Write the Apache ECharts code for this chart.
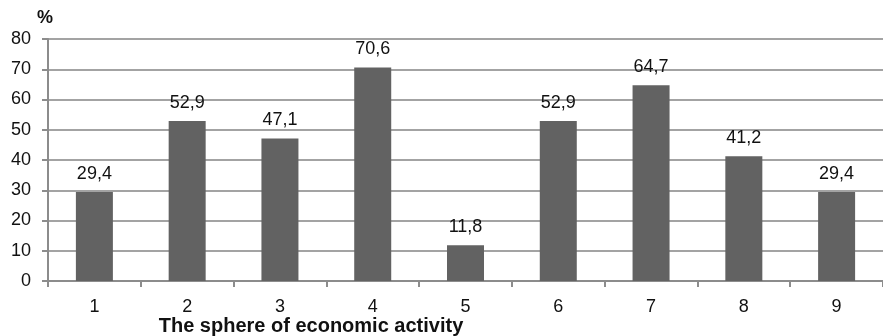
<!DOCTYPE html>
<html>
<head>
<meta charset="utf-8">
<script src="https://cdn.jsdelivr.net/npm/echarts@6/dist/echarts.min.js"></script>
<style>
html,body{margin:0;padding:0;background:#fff;}
#chart{width:883px;height:336px;}
</style>
</head>
<body>
<div id="chart"></div>
<script>
// Share of respondents by sphere of economic activity
const categories = ['1', '2', '3', '4', '5', '6', '7', '8', '9'];
const shares = [29.4, 52.9, 47.1, 70.6, 11.8, 52.9, 64.7, 41.2, 29.4];
const yTicks = [0, 10, 20, 30, 40, 50, 60, 70, 80];

const FONT = '"Liberation Sans Narrow", "Arial Narrow", "Liberation Sans", Arial, sans-serif';

const chart = echarts.init(document.getElementById('chart'), null, { renderer: 'canvas' });
chart.setOption({
  animation: false,
  backgroundColor: '#ffffff',
  grid: { left: 48, top: 39, width: 841, height: 242, containLabel: false },
  xAxis: {
    type: 'category',
    data: categories,
    axisLine: { show: true, lineStyle: { color: '#8c8c8c', width: 2 } },
    axisTick: { show: true, alignWithLabel: false, length: 6, lineStyle: { color: '#8c8c8c', width: 2 } },
    axisLabel: { color: '#111', fontFamily: FONT, fontSize: 18, margin: 17 }
  },
  yAxis: {
    type: 'value',
    min: yTicks[0],
    max: yTicks[yTicks.length - 1],
    interval: 10,
    axisLine: { show: true, lineStyle: { color: '#8c8c8c', width: 2 } },
    axisTick: { show: true, length: 6, lineStyle: { color: '#8c8c8c', width: 2 } },
    axisLabel: { color: '#111', fontFamily: FONT, fontSize: 18, margin: 17 },
    splitLine: { show: true, lineStyle: { color: '#a3a3a3', width: 2 } }
  },
  series: [{
    type: 'bar',
    data: shares,
    barWidth: 37,
    itemStyle: { color: '#626262' },
    label: {
      show: true,
      position: 'top',
      distance: 9,
      color: '#111',
      fontFamily: FONT,
      fontSize: 18,
      formatter: p => String(p.value).replace('.', ',')
    }
  }],
  graphic: [
    {
      type: 'text', left: 37, top: 9,
      style: { text: '%', fill: '#111', font: 'bold 18px ' + FONT }
    },
    {
      type: 'text', x: 311, y: 326,
      style: { text: 'The sphere of economic activity', fill: '#111', font: 'bold 20px ' + FONT, align: 'center', verticalAlign: 'middle' }
    }
  ]
});
</script>
</body>
</html>
